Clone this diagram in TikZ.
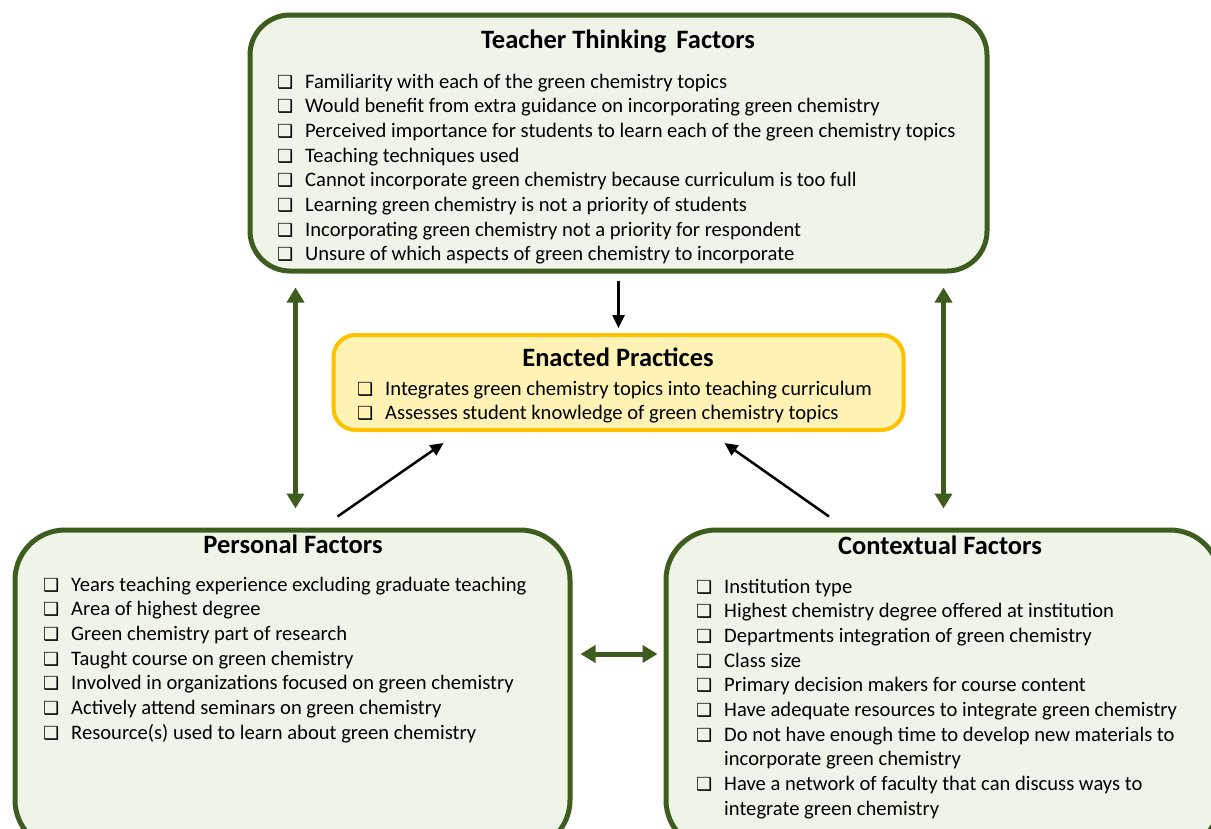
\documentclass[tikz,border=0pt]{standalone}
\usepackage{fontspec}
\setmainfont{Carlito}
\newfontfamily\symfont{DejaVu Sans}
\usetikzlibrary{positioning,arrows.meta}

\definecolor{oliveline}{HTML}{3F5C1F}
\definecolor{olivefill}{HTML}{EEF5E8}
\definecolor{goldline}{HTML}{FFC000}
\definecolor{goldfill}{HTML}{FEF2B4}

% shadowed check box in front of every item
\newcommand{\cb}{\makebox[28pt][l]{\symfont\bfseries\fontsize{18}{18}\selectfont ❑}}
\newcommand{\itm}[1]{\cb & #1\\}

\begin{document}
\begin{tikzpicture}[x=1pt, y=-1pt,
	factor box/.style={draw=oliveline, line width=5pt, fill=olivefill, rounded corners=#1, inner sep=0pt},
	factor box/.default=45pt,
	practice box/.style={draw=goldline, line width=4pt, fill=goldfill, rounded corners=22pt, inner sep=0pt},
	box title/.style={anchor=base, font=\fontsize{26.5}{30}\selectfont\bfseries, inner sep=0pt},
	item list/.style={anchor=base west, inner sep=0pt, font=\fontsize{20.6}{24.7}\selectfont, text=black},
	cause/.style={-{Triangle[width=12pt,length=13pt]}, line width=2.5pt, black},
	link/.style={{Triangle[width=17pt,length=15pt]}-{Triangle[width=17pt,length=15pt]}, line width=5pt, oliveline}]
	\useasboundingbox (0,0) rectangle (1211,828);
	\clip (0,0) rectangle (1211,828);

	% the four boxes
	\node[factor box=40pt, minimum width=737pt, minimum height=256pt] (ttf) at (618.5,143) {};
	\node[practice box, minimum width=570pt, minimum height=95pt] (ep) at (618.5,382.5) {};
	\node[factor box=50pt, minimum width=555pt, minimum height=320pt] (pf) at (292.5,690) {};
	\node[factor box=50pt, minimum width=554pt, minimum height=320pt] (cf) at (943,690) {};

	% titles
	\node[box title] (ttfT) at (618,48) {Teacher Thinking\hspace{4pt} Factors};
	\node[box title] (epT) at (618,366) {Enacted Practices};
	\node[box title] (pfT) at (293,553) {Personal Factors};
	\node[box title] (cfT) at (940,554) {Contextual Factors};

	% item lists
	\node[item list] (ttfL) at (277,88) {\begin{tabular}[t]{@{}l@{}l@{}}
		\itm{Familiarity with each of the green chemistry topics}
		\itm{Would benefit from extra guidance on incorporating green chemistry}
		\itm{Perceived importance for students to learn each of the green chemistry topics}
		\itm{Teaching techniques used}
		\itm{Cannot incorporate green chemistry because curriculum is too full}
		\itm{Learning green chemistry is not a priority of students}
		\itm{Incorporating green chemistry not a priority for respondent}
		\itm{Unsure of which aspects of green chemistry to incorporate}
	\end{tabular}};
	\node[item list] (epL) at (357,395) {\begin{tabular}[t]{@{}l@{}l@{}}
		\itm{Integrates green chemistry topics into teaching curriculum}
		\itm{Assesses student knowledge of green chemistry topics}
	\end{tabular}};
	\node[item list] (pfL) at (43,591) {\begin{tabular}[t]{@{}l@{}l@{}}
		\itm{Years teaching experience excluding graduate teaching}
		\itm{Area of highest degree}
		\itm{Green chemistry part of research}
		\itm{Taught course on green chemistry}
		\itm{Involved in organizations focused on green chemistry}
		\itm{Actively attend seminars on green chemistry}
		\itm{Resource(s) used to learn about green chemistry}
	\end{tabular}};
	\node[item list] (cfL) at (696,593) {\begin{tabular}[t]{@{}l@{}l@{}}
		\itm{Institution type}
		\itm{Highest chemistry degree offered at institution}
		\itm{Departments integration of green chemistry}
		\itm{Class size}
		\itm{Primary decision makers for course content}
		\itm{Have adequate resources to integrate green chemistry}
		\itm{Do not have enough time to develop new materials to}
		& incorporate green chemistry\\
		\itm{Have a network of faculty that can discuss ways to}
		& integrate green chemistry\\
	\end{tabular}};

	% influences
	\draw[cause, shorten <=7pt, shorten >=5pt] (ttf) -- (ep);
	\draw[cause] ([xshift=45pt,yshift=11pt]pf.north) -- ([xshift=-175pt,yshift=-11pt]ep.south);
	\draw[cause] ([xshift=-114pt,yshift=11pt]cf.north) -- ([xshift=106pt,yshift=-11pt]ep.south);

	\draw[link, shorten <=14pt, shorten >=19pt] ([xshift=48pt]ttf.south west) -- ([xshift=48pt]ttf.south west |- pf.north);
	\draw[link, shorten <=14pt, shorten >=19pt] ([xshift=-46pt]ttf.south east) -- ([xshift=-46pt]ttf.south east |- cf.north);
	\draw[link, shorten <=8pt, shorten >=6pt] ([yshift=36pt]pf.east) -- ([yshift=36pt]cf.west);
\end{tikzpicture}
\end{document}
